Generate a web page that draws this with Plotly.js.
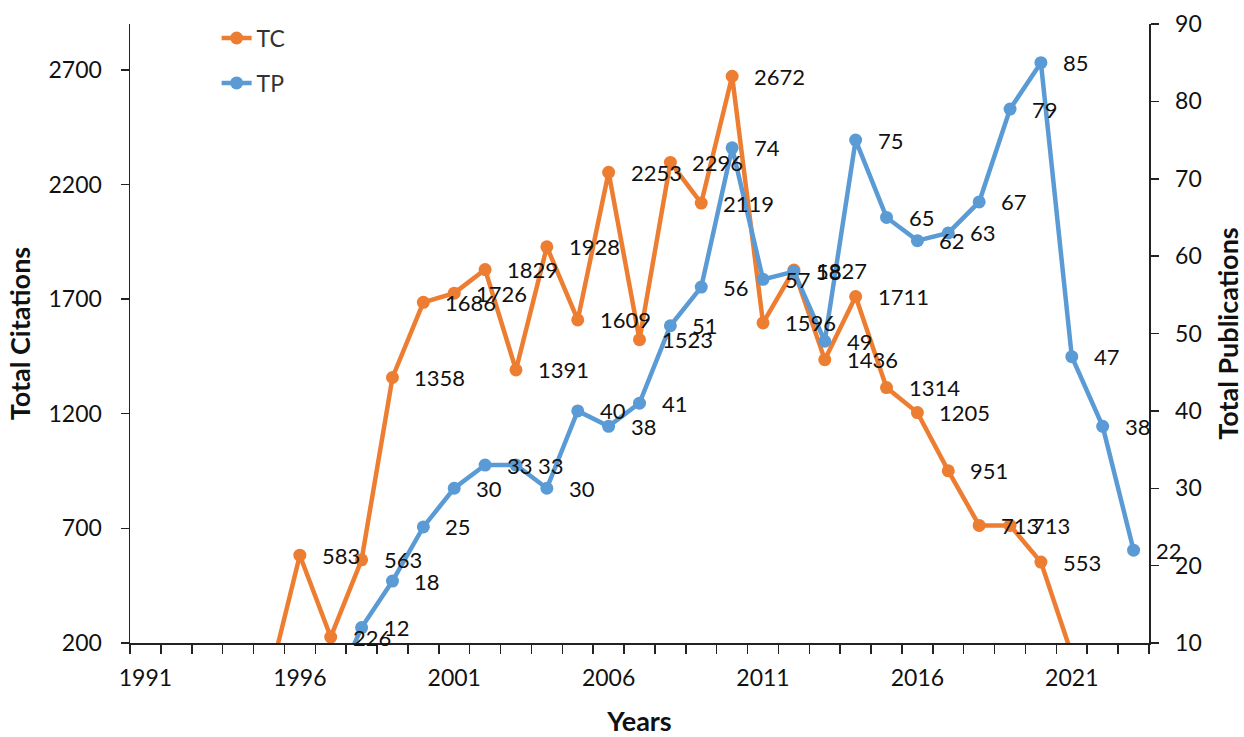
<!DOCTYPE html>
<html><head><meta charset="utf-8">
<script src="https://cdn.plot.ly/plotly-3.0.1.min.js"></script>
<style>html,body{margin:0;padding:0;background:#fff}</style>
</head><body><div id="chart" style="width:1244px;height:737px"></div>
<script>
const years = [1991,1992,1993,1994,1995,1996,1997,1998,1999,2000,2001,2002,2003,2004,2005,2006,2007,2008,2009,2010,2011,2012,2013,2014,2015,2016,2017,2018,2019,2020,2021,2022,2023];
const tc = [null,null,null,null,35,583,226,563,1358,1686,1726,1829,1391,1928,1609,2253,1523,2296,2119,2672,1596,1827,1436,1711,1314,1205,951,713,713,553,150,null,null];
const tp = [null,null,null,null,null,null,3,12,18,25,30,33,33,30,40,38,41,51,56,74,57,58,49,75,65,62,63,67,79,85,47,38,22];
const xTickYears = [1991,1996,2001,2006,2011,2016,2021];

const tcRange = [200,2900];
const tpRange = [10,90];
const orange = '#ED7D31', blue = '#5B9BD5';
const fam = "Lato, 'Open Sans', sans-serif";

const traces = [
  {x: years, y: tc, name: 'TC', type: 'scatter', mode: 'lines+markers', yaxis: 'y',
   line: {color: orange, width: 4.5}, marker: {color: orange, size: 13}, legendgroup: 'a', connectgaps: false},
  {x: years, y: tp, name: 'TP', type: 'scatter', mode: 'lines+markers', yaxis: 'y2',
   line: {color: blue, width: 4.5}, marker: {color: blue, size: 13}, legendgroup: 'b', connectgaps: false}
];

const annotations = [];
function addLabels(vals, yref, rng) {
  vals.forEach((v, i) => {
    if (v === null || v < rng[0] || v > rng[1]) return;
    annotations.push({x: years[i], y: v, yref: yref, xref: 'x', text: String(v), showarrow: false,
      xanchor: 'left', yanchor: 'middle', xshift: 20, font: {family: fam, size: 22, color: '#111'}});
  });
}
addLabels(tc, 'y', tcRange);
addLabels(tp, 'y2', tpRange);

const axisFont = {family: fam, size: 23, color: '#111'};
const titleFont = {family: fam, size: 27, color: '#111', weight: 'bold'};

const layout = {
  width: 1244, height: 737,
  margin: {l: 130, r: 95, t: 24, b: 94},
  paper_bgcolor: '#fff', plot_bgcolor: '#fff',
  font: {family: fam},
  showlegend: true,
  legend: {x: 0.085, y: 1.012, xanchor: 'left', yanchor: 'top', font: {family: fam, size: 23, color: '#333'},
           bgcolor: 'rgba(0,0,0,0)', tracegroupgap: 12, traceorder: 'grouped'},
  xaxis: {range: [1990.5, 2023.5], tickmode: 'array', tickvals: xTickYears, ticktext: xTickYears.map(String),
          ticks: 'outside', ticklen: 9, tickcolor: 'rgba(0,0,0,0)', ticklabelstandoff: 5,
          minor: {ticks: 'outside', ticklen: 9, tickcolor: '#222', tickwidth: 1.5, tickmode: 'linear', tick0: 1990.5, dtick: 1, showgrid: false},
          showline: true, linecolor: '#222', linewidth: 1.5, showgrid: false, zeroline: false,
          tickfont: axisFont, title: {text: 'Years', font: titleFont, standoff: 24}},
  yaxis: {range: tcRange, tickmode: 'linear', tick0: 200, dtick: 500, ticks: 'outside', ticklen: 8,
          tickcolor: '#222', tickwidth: 1.5, ticklabelstandoff: 14,
          showline: true, linecolor: '#222', linewidth: 1.5, showgrid: false, zeroline: false,
          tickfont: axisFont, title: {text: 'Total Citations', font: titleFont, standoff: 10}},
  yaxis2: {range: tpRange, overlaying: 'y', side: 'right', tickmode: 'linear', tick0: 10, dtick: 10,
           ticks: 'outside', ticklen: 8, tickcolor: '#222', tickwidth: 1.5, ticklabelstandoff: 12,
           showline: true, linecolor: '#222', linewidth: 1.5, showgrid: false, zeroline: false,
           tickfont: axisFont, title: {text: 'Total Publications', font: titleFont, standoff: 20}},
  annotations: annotations
};
Plotly.newPlot('chart', traces, layout, {displayModeBar: false, staticPlot: true});
</script></body></html>
